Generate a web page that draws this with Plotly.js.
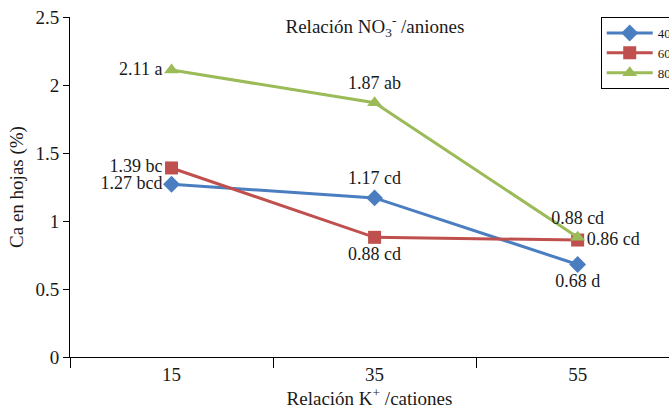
<!DOCTYPE html>
<html>
<head>
<meta charset="utf-8">
<script src="https://cdn.plot.ly/plotly-3.0.1.min.js"></script>
<style>html,body{margin:0;padding:0;background:#fff;}#chart{width:669px;height:410px;}</style>
</head>
<body>
<div id="chart"></div>
<script>
const categories = ['15', '35', '55'];
const seriesNames = ['40', '60', '80'];
const values40 = [1.27, 1.17, 0.68];
const values60 = [1.39, 0.88, 0.86];
const values80 = [2.11, 1.87, 0.88];
const labels40 = ['1.27 bcd', '1.17 cd', '0.68 d'];
const labels60 = ['1.39 bc', '0.88 cd', '0.86 cd'];
const labels80 = ['2.11 a', '1.87 ab', '0.88 cd'];
const yTicks = [0, 0.5, 1, 1.5, 2, 2.5];
const yTickText = ['0', '0.5', '1', '1.5', '2', '2.5'];

const FONT = 'Liberation Serif, Times New Roman, serif';
const colors = ['#4A7EC1', '#C0504D', '#9BBB59'];
const symbols = ['diamond', 'square', 'triangle-up'];
const positions = [
  ['middle left', 'top center', 'bottom center'],
  ['middle left', 'bottom center', 'middle right'],
  ['middle left', 'top center', 'top center']
];
const allVals = [values40, values60, values80];
const allLabels = [labels40, labels60, labels80];

const traces = allVals.map((v, i) => ({
  x: categories,
  y: v,
  name: seriesNames[i],
  type: 'scatter',
  mode: 'lines+markers+text',
  text: allLabels[i],
  textposition: positions[i],
  textfont: {family: FONT, size: 18, color: '#1a1a1a'},
  line: {color: colors[i], width: 3},
  marker: {color: colors[i], symbol: symbols[i], size: 13},
  cliponaxis: false
}));

const layout = {
  width: 669, height: 410,
  margin: {l: 70, r: 0, t: 17, b: 53, autoexpand: false},
  paper_bgcolor: '#fff', plot_bgcolor: '#fff',
  font: {family: FONT, size: 18, color: '#1a1a1a'},
  showlegend: true,
  title: {
    text: 'Relación NO<sub>3</sub><sup>-</sup> /aniones',
    x: 0.5605, xanchor: 'center', y: 0.935, yanchor: 'middle',
    font: {family: FONT, size: 19, color: '#1a1a1a'}
  },
  xaxis: {
    type: 'category',
    range: [-0.5, 2.45],
    showline: true, linecolor: '#000', linewidth: 1,
    ticks: 'outside', ticklen: 10, tickcolor: '#000', tickson: 'boundaries',
    showgrid: false, zeroline: false,
    tickfont: {family: FONT, size: 19, color: '#1a1a1a'},
    title: {text: 'Relación K<sup>+</sup> /cationes', font: {family: FONT, size: 19, color: '#1a1a1a'}, standoff: 0}
  },
  yaxis: {
    range: [0, 2.5],
    tickvals: yTicks, ticktext: yTickText,
    showline: true, linecolor: '#000', linewidth: 1,
    ticks: 'outside', ticklen: 6, tickcolor: '#000',
    showgrid: false, zeroline: false,
    tickfont: {family: FONT, size: 19, color: '#1a1a1a'},
    title: {text: 'Ca en hojas (%)', font: {family: FONT, size: 19, color: '#1a1a1a'}, standoff: 6}
  },
  legend: {
    x: 0.886, xanchor: 'left', y: 1, yanchor: 'top',
    bordercolor: '#000', borderwidth: 1, bgcolor: '#fff',
    font: {family: FONT, size: 13, color: '#1a1a1a'},
    itemwidth: 46, tracegroupgap: 0
  }
};

Plotly.newPlot('chart', traces, layout, {displayModeBar: false, staticPlot: true});
</script>
</body>
</html>
